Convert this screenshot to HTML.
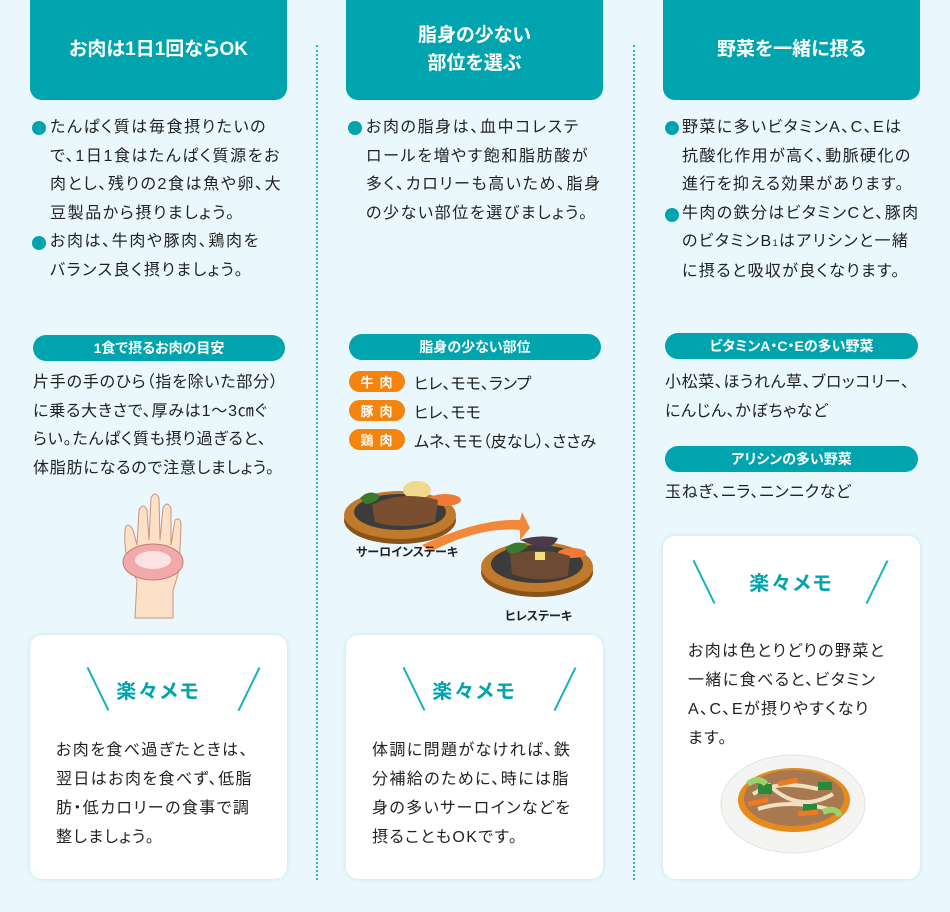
<!DOCTYPE html>
<html><head><meta charset="utf-8"><style>
*{margin:0;padding:0;box-sizing:border-box}
body{width:950px;height:912px;background:#eaf8fd;position:relative;overflow:hidden;font-family:"Liberation Sans","Noto Sans CJK JP",sans-serif;color:#222;font-feature-settings:"palt"}
.a{position:absolute}
.hd{position:absolute;top:0;width:257px;height:100px;background:#00a4ae;border-radius:0 0 12px 12px;color:#fff;font-weight:bold;font-size:19px;display:flex;align-items:center;justify-content:center;text-align:center;line-height:28px}
.sep{position:absolute;top:45px;height:835px;border-left:2px dotted #29b8c6}
.tx{position:absolute;font-size:16px;line-height:28.6px;white-space:nowrap;letter-spacing:1.6px}
.dot{position:absolute;width:14px;height:14px;border-radius:50%;background:#00a4ae}
.pill{position:absolute;height:26px;border-radius:13px;background:#00a4ae;color:#fff;font-weight:bold;font-size:14px;display:flex;align-items:center;justify-content:center}
.card{position:absolute;background:#fff;border-radius:12px;box-shadow:0 0 4px rgba(120,180,200,.35)}
.mt{position:absolute;color:#00a4ae;font-weight:bold;font-size:20px;letter-spacing:2px;width:100%;text-align:center}
.ln{position:absolute;width:1.5px;height:48px;background:#1bb0bd}
.mx{position:absolute;font-size:16px;line-height:29px;white-space:nowrap;letter-spacing:1.4px}
.tag{position:absolute;left:349px;width:56px;height:21px;border-radius:11px;background:#f5840f;color:#fff;font-size:13px;font-weight:bold;display:flex;align-items:center;justify-content:center;letter-spacing:6px;padding-left:5px}
.tg{position:absolute;left:414px;font-size:16px}
.lb{position:absolute;font-weight:bold;font-size:12px}
</style></head><body>
<div class="sep" style="left:316px"></div>
<div class="sep" style="left:633px"></div>

<div class="hd" style="left:30px">お肉は1日1回ならOK</div>
<div class="hd" style="left:346px">脂身の少ない<br>部位を選ぶ</div>
<div class="hd" style="left:663px">野菜を一緒に摂る</div>

<!-- col1 -->
<div class="dot" style="left:32px;top:121px"></div>
<div class="dot" style="left:32px;top:236px"></div>
<div class="tx" style="left:50px;top:114px">たんぱく質は毎食摂りたいの<br>で、1日1食はたんぱく質源をお<br>肉とし、残りの2食は魚や卵、大<br>豆製品から摂りましょう。<br>お肉は、牛肉や豚肉、鶏肉を<br>バランス良く摂りましょう。</div>
<div class="pill" style="left:33px;top:335px;width:252px">1食で摂るお肉の目安</div>
<div class="tx" style="left:33px;top:369px;letter-spacing:0.8px">片手の手のひら（指を除いた部分）<br>に乗る大きさで、厚みは1～3㎝ぐ<br>らい。たんぱく質も摂り過ぎると、<br>体脂肪になるので注意しましょう。</div>
<svg class="a" style="left:115px;top:490px" width="80" height="130" viewBox="0 0 80 130">
<path d="M20 128 L22 90 Q8 70 10 40 Q12 30 18 40 L22 55 L24 20 Q28 12 32 20 L34 50 L36 8 Q40 0 44 8 L45 50 L48 18 Q52 10 56 18 L56 55 L60 30 Q66 26 66 36 L64 80 Q60 95 58 100 L58 128 Z" fill="#fde0c8" stroke="#c8957a" stroke-width="1"/>
<ellipse cx="38" cy="72" rx="30" ry="18" fill="#f2a9a9" stroke="#c27878"/>
<ellipse cx="38" cy="70" rx="18" ry="9" fill="#fbe3e3"/>
</svg>
<div class="card" style="left:30px;top:635px;width:257px;height:244px">
<div class="mt" style="top:40px">楽々メモ</div>
<div class="ln" style="left:67px;top:30px;transform:rotate(-26deg)"></div>
<div class="ln" style="left:218px;top:30px;transform:rotate(26deg)"></div>
<div class="mx" style="left:26px;top:101px">お肉を食べ過ぎたときは、<br>翌日はお肉を食べず、低脂<br>肪・低カロリーの食事で調<br>整しましょう。</div>
</div>

<!-- col2 -->
<div class="dot" style="left:348px;top:121px"></div>
<div class="tx" style="left:366px;top:114px">お肉の脂身は、血中コレステ<br>ロールを増やす飽和脂肪酸が<br>多く、カロリーも高いため、脂身<br>の少ない部位を選びましょう。</div>
<div class="pill" style="left:349px;top:334px;width:252px">脂身の少ない部位</div>
<div class="tag" style="top:371px">牛肉</div><div class="tg" style="top:370px">ヒレ、モモ、ランプ</div>
<div class="tag" style="top:400px">豚肉</div><div class="tg" style="top:399px">ヒレ、モモ</div>
<div class="tag" style="top:429px">鶏肉</div><div class="tg" style="top:428px">ムネ、モモ（皮なし）、ささみ</div>
<svg class="a" style="left:340px;top:460px" width="270" height="150">
<ellipse cx="60" cy="60" rx="56" ry="24" fill="#8a5319"/><ellipse cx="60" cy="55" rx="56" ry="24" fill="#c07a2c"/><ellipse cx="60" cy="52" rx="46" ry="18" fill="#3c3c3c"/>
<path d="M20 38 Q30 28 40 36 Q35 44 25 44Z" fill="#3b7a2a"/><ellipse cx="77" cy="30" rx="14" ry="9" fill="#f0d98a"/><ellipse cx="105" cy="40" rx="16" ry="6" fill="#ee7a35"/>
<path d="M32 45 Q60 30 98 40 L95 62 Q60 70 35 62Z" fill="#7a4e30"/>
<path d="M82 85 Q140 58 180 60 L182 52 L190 68 L180 80 L180 70 Q140 66 90 92Z" fill="#f2883a"/>
<ellipse cx="197" cy="112" rx="56" ry="25" fill="#8a5319"/><ellipse cx="197" cy="107" rx="56" ry="25" fill="#c07a2c"/><ellipse cx="197" cy="104" rx="46" ry="19" fill="#3c3c3c"/>
<path d="M180 80 Q200 74 218 78 Q214 88 200 88Z" fill="#4a3a4a"/><path d="M165 88 Q178 78 188 86 Q180 94 170 94Z" fill="#3b7a2a"/><ellipse cx="232" cy="93" rx="14" ry="5" fill="#ee7a35"/>
<path d="M170 95 Q200 86 230 96 L228 116 Q200 124 172 114Z" fill="#6e4a32"/><rect x="195" y="92" width="10" height="8" fill="#f3df7a"/>
</svg>
<div class="lb" style="left:356px;top:543px">サーロインステーキ</div>
<div class="lb" style="left:505px;top:607px">ヒレステーキ</div>
<div class="card" style="left:346px;top:635px;width:257px;height:244px">
<div class="mt" style="top:40px">楽々メモ</div>
<div class="ln" style="left:67px;top:30px;transform:rotate(-26deg)"></div>
<div class="ln" style="left:218px;top:30px;transform:rotate(26deg)"></div>
<div class="mx" style="left:26px;top:101px">体調に問題がなければ、鉄<br>分補給のために、時には脂<br>身の多いサーロインなどを<br>摂ることもOKです。</div>
</div>

<!-- col3 -->
<div class="dot" style="left:665px;top:121px"></div>
<div class="dot" style="left:665px;top:208px"></div>
<div class="tx" style="left:682px;top:114px;letter-spacing:1.4px">野菜に多いビタミンA、C、Eは<br>抗酸化作用が高く、動脈硬化の<br>進行を抑える効果があります。<br>牛肉の鉄分はビタミンCと、豚肉<br>のビタミンB<span style="font-size:9px">1</span>はアリシンと一緒<br>に摂ると吸収が良くなります。</div>
<div class="pill" style="left:665px;top:333px;width:253px">ビタミンA・C・Eの多い野菜</div>
<div class="tx" style="left:665px;top:369px;letter-spacing:0.6px">小松菜、ほうれん草、ブロッコリー、<br>にんじん、かぼちゃなど</div>
<div class="pill" style="left:665px;top:446px;width:253px">アリシンの多い野菜</div>
<div class="tx" style="left:665px;top:479px;letter-spacing:0.6px">玉ねぎ、ニラ、ニンニクなど</div>
<div class="card" style="left:663px;top:536px;width:257px;height:343px">
<div class="mt" style="top:31px">楽々メモ</div>
<div class="ln" style="left:40px;top:22px;transform:rotate(-26deg)"></div>
<div class="ln" style="left:213px;top:22px;transform:rotate(26deg)"></div>
<div class="mx" style="left:25px;top:101px">お肉は色とりどりの野菜と<br>一緒に食べると、ビタミン<br>A、C、Eが摂りやすくなり<br>ます。</div>
<svg class="a" style="left:55px;top:218px" width="150" height="106">
<ellipse cx="75" cy="50" rx="72" ry="49" fill="#f4f4f2" stroke="#e2e2de"/>
<ellipse cx="76" cy="46" rx="56" ry="32" fill="#e58a1e"/>
<ellipse cx="76" cy="44" rx="50" ry="28" fill="#a87850"/>
<path d="M35 40 Q60 25 100 35 M40 55 Q70 45 110 55 M50 30 Q80 60 115 40" stroke="#efe0c0" stroke-width="4" fill="none"/>
<rect x="40" y="30" width="14" height="10" fill="#2a8a3a"/><rect x="85" y="50" width="14" height="10" fill="#2a8a3a"/><rect x="100" y="28" width="14" height="8" fill="#2a8a3a"/>
<path d="M30 50 L50 46 M60 30 L80 26 M80 60 L100 58" stroke="#f07a20" stroke-width="5"/>
<path d="M30 30 Q40 22 48 30 M105 58 Q118 52 122 62" stroke="#9bd26a" stroke-width="6" fill="none"/>
</svg>
</div>
</body></html>
